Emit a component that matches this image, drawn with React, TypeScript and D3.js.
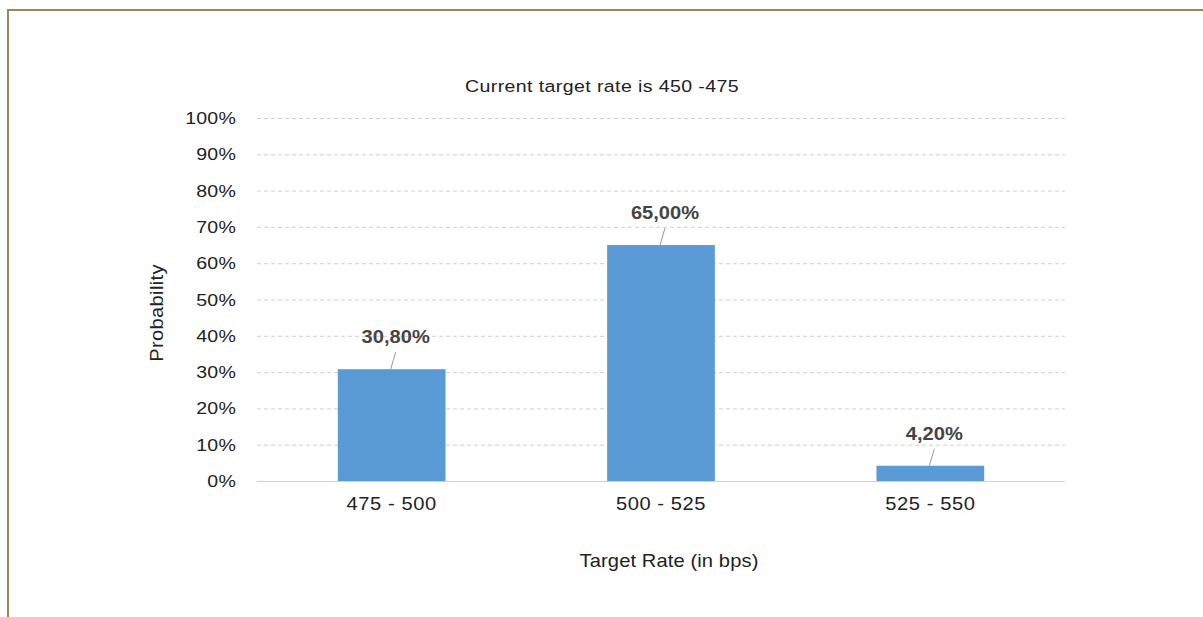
import React from "react";
import * as d3 from "d3";

const categories = ["475 - 500", "500 - 525", "525 - 550"];
const values = [30.8, 65.0, 4.2];
const valueLabels = ["30,80%", "65,00%", "4,20%"];
const yTicks = [0, 10, 20, 30, 40, 50, 60, 70, 80, 90, 100];
const title = "Current target rate is 450 -475";
const xTitle = "Target Rate (in bps)";
const yTitle = "Probability";

const FONT = "Arial, 'Liberation Sans', sans-serif";
const SX = 1.15;

function T(props: {
  x: number; y: number; size: number; anchor?: string; weight?: string; fill?: string;
  spacing?: number; rotate?: number; children: React.ReactNode;
}) {
  const { x, y, size, anchor = "middle", weight = "normal", fill = "#222", spacing = 0, rotate = 0, children } = props;
  return (
    <text
      transform={`translate(${x},${y}) rotate(${rotate}) scale(${SX},1)`}
      textAnchor={anchor}
      fontFamily={FONT}
      fontSize={size}
      fontWeight={weight}
      letterSpacing={spacing}
      fill={fill}
    >
      {children}
    </text>
  );
}

export default function App() {
  const W = 1203, H = 617;
  const left = 257, right = 1065, top = 118, bottom = 481;
  const x = d3.scaleBand<string>().domain(categories).range([left, right]).paddingInner(0.6).paddingOuter(0.3);
  const y = d3.scaleLinear().domain([0, 100]).range([bottom, top]);
  return (
    <div style={{ position: "absolute", left: 0, top: 0 }}>
      <svg width={W} height={H} style={{ display: "block" }}>
        <rect x={0} y={0} width={W} height={H} fill="#fff" />
        <line x1={7} y1={10} x2={W} y2={10} stroke="#958a5a" strokeWidth={2} />
        <line x1={8} y1={9} x2={8} y2={H} stroke="#958a5a" strokeWidth={2} />
        <T x={602} y={92} size={17} spacing={0.35}>{title}</T>
        {yTicks.map((t) => (
          <g key={t}>
            {t > 0 && (
              <line x1={left} x2={right} y1={y(t) + 0.5} y2={y(t) + 0.5} stroke="#d0d0d0" strokeDasharray="4,3" />
            )}
            <T x={236} y={y(t) + 6} size={17} anchor="end" spacing={0.2}>{t}%</T>
          </g>
        ))}
        {categories.map((c, i) => {
          const bx = x(c)!;
          const bw = x.bandwidth();
          const cx = bx + bw / 2;
          const yt = y(values[i]);
          return (
            <g key={c}>
              <rect x={bx} y={yt} width={bw} height={bottom - yt} fill="#5b9bd5" />
              <line x1={cx - 1} y1={yt} x2={cx + 4} y2={yt - 17} stroke="#999" strokeWidth={1} />
              <T x={cx + 4} y={yt - 26} size={17.5} weight="bold" fill="#444">{valueLabels[i]}</T>
              <T x={cx} y={510} size={17.5} spacing={0.5}>{c}</T>
            </g>
          );
        })}
        <line x1={left} x2={right} y1={bottom + 0.5} y2={bottom + 0.5} stroke="#d0d0d0" strokeWidth={1} />
        <T x={163} y={313} size={17.5} rotate={-90} spacing={0.3}>{yTitle}</T>
        <T x={669} y={567} size={17.5} spacing={0.1}>{xTitle}</T>
      </svg>
    </div>
  );
}
